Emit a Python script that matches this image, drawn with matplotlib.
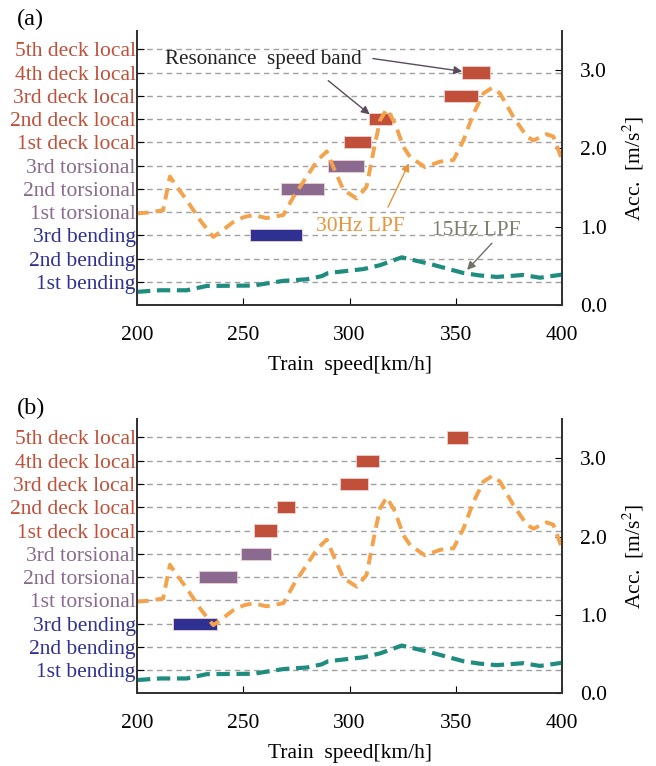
import numpy as np
import matplotlib
matplotlib.use("Agg")
import matplotlib.pyplot as plt

plt.rcParams['font.family'] = ['Liberation Serif', 'DejaVu Serif']
plt.rcParams['mathtext.fontset'] = 'stix'

# mode names (bottom to top)
modes = ['1st bending', '2nd bending', '3rd bending',
         '1st torsional', '2nd torsional', '3rd torsional',
         '1st deck local', '2nd deck local', '3rd deck local',
         '4th deck local', '5th deck local']
mode_colors = ['#2e3192'] * 3 + ['#8a6a8e'] * 3 + ['#c0503a'] * 5

# resonance speed bands [mode index, start, end] (km/h)
bands_a = [(2, 253, 277.5), (4, 267.8, 288), (5, 289.8, 306.8),
           (6, 297.5, 310.1), (7, 309.3, 319.8), (8, 344.6, 360.3),
           (9, 353, 366.1)]
bands_b = [(2, 216.8, 237.5), (4, 229.2, 246.9), (5, 248.8, 263.1),
           (6, 255.2, 265.7), (7, 265.7, 274.4), (8, 295.5, 308.8),
           (9, 302.9, 314.0), (10, 345.9, 355.9)]

# 30Hz LPF acceleration
speed_30 = [200, 205, 212.3, 215.5, 219, 223.4, 229.6, 235.9, 240, 245.3, 250,
            254.7, 261, 268.9, 273.6, 279.9, 285, 289.3, 292.4, 297.1, 303.4,
            308, 312, 314.4, 317.5, 321.4, 325.3, 328.5, 335.5, 342.6, 348.9,
            353.6, 358.3, 363, 367, 370.8, 377.1, 383.4, 386.5, 392.8, 395.9, 400]
acc_30 = [1.17, 1.18, 1.21, 1.64, 1.50, 1.34, 1.085, 0.87, 0.95, 1.06, 1.12,
          1.15, 1.11, 1.15, 1.38, 1.64, 1.85, 1.96, 1.76, 1.47, 1.36,
          1.51, 2.06, 2.36, 2.50, 2.32, 2.02, 1.89, 1.76, 1.83, 1.85,
          2.10, 2.44, 2.70, 2.77, 2.70, 2.40, 2.15, 2.10, 2.18, 2.15, 1.85]

# 15Hz LPF acceleration
speed_15 = [200, 210.8, 223.4, 232.8, 254.7, 268.9, 279.9, 286.9, 290, 306.5,
            314.4, 324.6, 337.9, 353.6, 361, 369.3, 381.8, 389.6, 400]
acc_15 = [0.17, 0.19, 0.19, 0.245, 0.25, 0.31, 0.33, 0.37, 0.41, 0.46,
          0.51, 0.61, 0.525, 0.41, 0.38, 0.36, 0.385, 0.35, 0.39]

xticks = [200, 250, 300, 350, 400]
acc_ticks = [0.0, 1.0, 2.0, 3.0]

fs = 15.5
fig = plt.figure(figsize=(6.56, 7.66), dpi=100)


def draw_panel(rect, bands, tag, annotate):
    ax = fig.add_axes(rect)
    ax2 = ax.twinx()
    ax.set_xlim(200, 400)
    ax.set_ylim(0, 11.8)
    ax2.set_ylim(0, 3.5)

    ax.set_yticks(range(1, 12))
    ax.set_yticklabels(modes, fontsize=fs)
    for lab, c in zip(ax.get_yticklabels(), mode_colors):
        lab.set_color(c)
    ax.grid(axis='y', ls=(0, (4, 3)), color='#a0a0a0', lw=1.0)
    ax.set_axisbelow(True)

    for m, s0, s1 in bands:
        ax.barh(m + 1, s1 - s0, left=s0, height=0.52, color=mode_colors[m],
                edgecolor='#f0d0d0', lw=0.6, zorder=3)

    ax2.plot(speed_30, acc_30, color='#f4a24c', lw=2.8, dashes=(3, 1.8))
    ax2.plot(speed_15, acc_15, color='#1e8c7e', lw=3.0, dashes=(3.2, 1.6))

    ax.set_xticks(xticks)
    ax.set_xticklabels([str(v) for v in xticks], fontsize=fs)
    ax2.set_yticks(acc_ticks)
    ax2.set_yticklabels(['%.1f' % v for v in acc_ticks], fontsize=fs)
    ax.tick_params(axis='x', direction='in', length=5, pad=15)
    ax.tick_params(axis='y', direction='in', length=5, pad=1)
    ax2.tick_params(axis='y', direction='in', length=5, pad=13)
    ax.set_xlabel('Train  speed[km/h]', fontsize=fs, labelpad=8)
    ax2.set_ylabel('Acc.  [m/s$^2$]', fontsize=fs, labelpad=10)

    for a in (ax, ax2):
        a.spines['top'].set_visible(False)
        for sp in ('left', 'right', 'bottom'):
            a.spines[sp].set_color('#333333')
            a.spines[sp].set_linewidth(1.3)

    ax.text(-0.283, 1.039, tag, transform=ax.transAxes, fontsize=fs + 2,
            ha='left', va='center')

    if annotate:
        ax.text(213.2, 10.55, 'Resonance  speed band', fontsize=fs - 0.3,
                color='#222222', ha='left', va='center')
        ap = dict(arrowstyle='-|>', color='#5a4a5e', lw=1.0, mutation_scale=12,
                  shrinkA=0, shrinkB=0)
        ax.annotate('', xy=(353, 10.05), xytext=(311, 10.6), arrowprops=ap)
        ax.annotate('', xy=(309.5, 8.2), xytext=(290, 9.65), arrowprops=ap)
        ax2.text(284.2, 1.0, '30Hz LPF', fontsize=fs, color='#e8953a',
                 ha='left', va='center')
        ax2.annotate('', xy=(328, 1.81), xytext=(318.1, 1.25),
                     arrowprops=dict(arrowstyle='-|>', color='#e8953a', lw=1.0,
                                     mutation_scale=12, shrinkA=0, shrinkB=0))
        ax2.text(338.8, 0.95, '15Hz LPF', fontsize=fs, color='#808070',
                 ha='left', va='center')
        ax2.annotate('', xy=(355.3, 0.45), xytext=(367, 0.79),
                     arrowprops=dict(arrowstyle='-|>', color='#707068', lw=1.0,
                                     mutation_scale=12, shrinkA=0, shrinkB=0))
    return ax


draw_panel([0.2088, 0.6016, 0.648, 0.3584], bands_a, '(a)', True)
draw_panel([0.2088, 0.0948, 0.648, 0.3584], bands_b, '(b)', False)

fig.savefig('out.png', dpi=100)
